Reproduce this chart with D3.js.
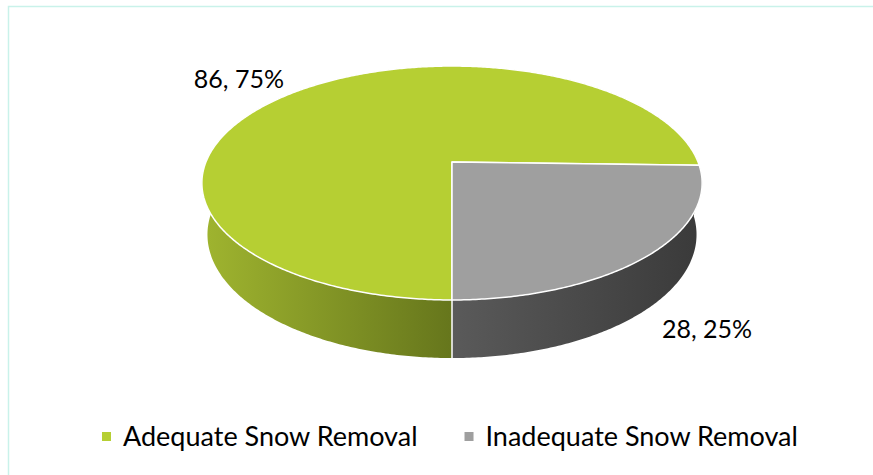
<!DOCTYPE html>
<html lang="en">
<head>
<meta charset="UTF-8">
<title>Snow Removal</title>
<style>
	body { margin: 0; background: #fff; }
	text { font-family: Lato, "Open Sans", sans-serif; fill: #000; }
</style>
</head>
<body>
<script src="https://d3js.org/d3.v7.min.js"></script>
<script>
	// data
	let categories = ['Adequate Snow Removal', 'Inadequate Snow Removal'];
	let counts = [86, 28];
	let percentLabels = ['75%', '25%'];

	let width = 873;
	let height = 475;

	// colours: top face, side gradient start / end
	let topColors = ['#b6cf33', '#9f9f9f'];
	let sideFrom = ['#9fb42f', '#5a5a5a'];
	let sideTo = ['#66761c', '#3a3a3a'];

	// perspective camera for the tilted disc
	let cx = 452, cy = 162;
	let focal = 1217, dist = 4.946;
	let sinT = 0.46, cosT = 0.888;
	let thick = 0.238;

	// angle a: clockwise from the back, seen from above
	function proj(a, level, r) {
		r = r === undefined ? 1 : r;
		let X = r * Math.sin(a);
		let Z = -r * Math.cos(a);
		let Y = -level * thick;
		let down = -Y * cosT + Z * sinT;
		let depth = dist - Y * sinT - Z * cosT;
		return [cx + focal * X / depth, cy + focal * down / depth];
	}

	function arcPoints(a0, a1, level) {
		let n = Math.max(2, Math.ceil(Math.abs(a1 - a0) / 0.01));
		let pts = [];
		for (let i = 0; i <= n; i++) {
			pts.push(proj(a0 + (a1 - a0) * i / n, level));
		}
		return pts;
	}

	let pie = d3.pie()
			.sort(null)
			.startAngle(Math.PI)
			.endAngle(3 * Math.PI);
	let slices = pie(counts);

	let line = d3.line();

	let svg = d3.select('body')
			.append('svg')
			.attr('width', width)
			.attr('height', height);

	// frame
	svg.append('path')
			.attr('d', 'M8.5,' + height + 'V6.5H' + width)
			.attr('fill', 'none')
			.attr('stroke', '#c9f2ea')
			.attr('stroke-width', 1.5);

	let defs = svg.append('defs');
	slices.forEach(function(s, i) {
		let g = defs.append('linearGradient')
				.attr('id', 'side' + i)
				.attr('gradientUnits', 'userSpaceOnUse')
				.attr('x1', i === 0 ? 205 : cx)
				.attr('x2', i === 0 ? cx : 700)
				.attr('y1', 0).attr('y2', 0);
		g.append('stop').attr('offset', 0).attr('stop-color', sideFrom[i]);
		g.append('stop').attr('offset', 1).attr('stop-color', sideTo[i]);
	});

	// side walls
	svg.append('g')
			.selectAll('path')
			.data(slices)
			.enter()
			.append('path')
			.attr('d', function(s) {
				let pts = arcPoints(s.startAngle, s.endAngle, 0)
						.concat(arcPoints(s.endAngle, s.startAngle, 1));
				return line(pts) + 'Z';
			})
			.attr('fill', function(s, i) { return 'url(#side' + i + ')'; });

	// white edge where the slices meet on the wall (front only)
	slices.forEach(function(s) {
		let a = s.startAngle % (2 * Math.PI);
		if (-Math.cos(a) > 0.3) {
			svg.append('path')
					.attr('d', line([proj(a, 0), proj(a, 1)]))
					.attr('stroke', '#fff')
					.attr('stroke-width', 1.5);
		}
	});

	// top faces
	svg.append('g')
			.selectAll('path')
			.data(slices)
			.enter()
			.append('path')
			.attr('d', function(s) {
				return line([[cx, cy]].concat(arcPoints(s.startAngle, s.endAngle, 0))) + 'Z';
			})
			.attr('fill', function(s, i) { return topColors[i]; })
			.attr('stroke', '#fff')
			.attr('stroke-width', 1.5)
			.attr('stroke-linejoin', 'round');

	// data labels
	slices.forEach(function(s, i) {
		let mid = (s.startAngle + s.endAngle) / 2;
		let t = svg.append('text')
				.attr('font-size', 25)
				.text(counts[i] + ', ' + percentLabels[i]);
		if (i === 0) {
			let p = proj(mid, 0);
			t.attr('x', p[0] - 16).attr('y', p[1] - 2).attr('text-anchor', 'end');
		} else {
			let p = proj(mid, 1);
			t.attr('x', p[0] + 18).attr('y', p[1] + 27);
		}
	});

	// legend
	let legend = svg.append('g').attr('transform', 'translate(102,446)');
	let lx = 0;
	categories.forEach(function(c, i) {
		legend.append('rect')
				.attr('x', lx).attr('y', -14)
				.attr('width', 9).attr('height', 9)
				.attr('fill', topColors[i]);
		let t = legend.append('text')
				.attr('x', lx + 21).attr('y', 0)
				.attr('font-size', 27)
				.text(c);
		lx += 21 + t.node().getComputedTextLength() + 47;
	});
</script>
</body>
</html>
